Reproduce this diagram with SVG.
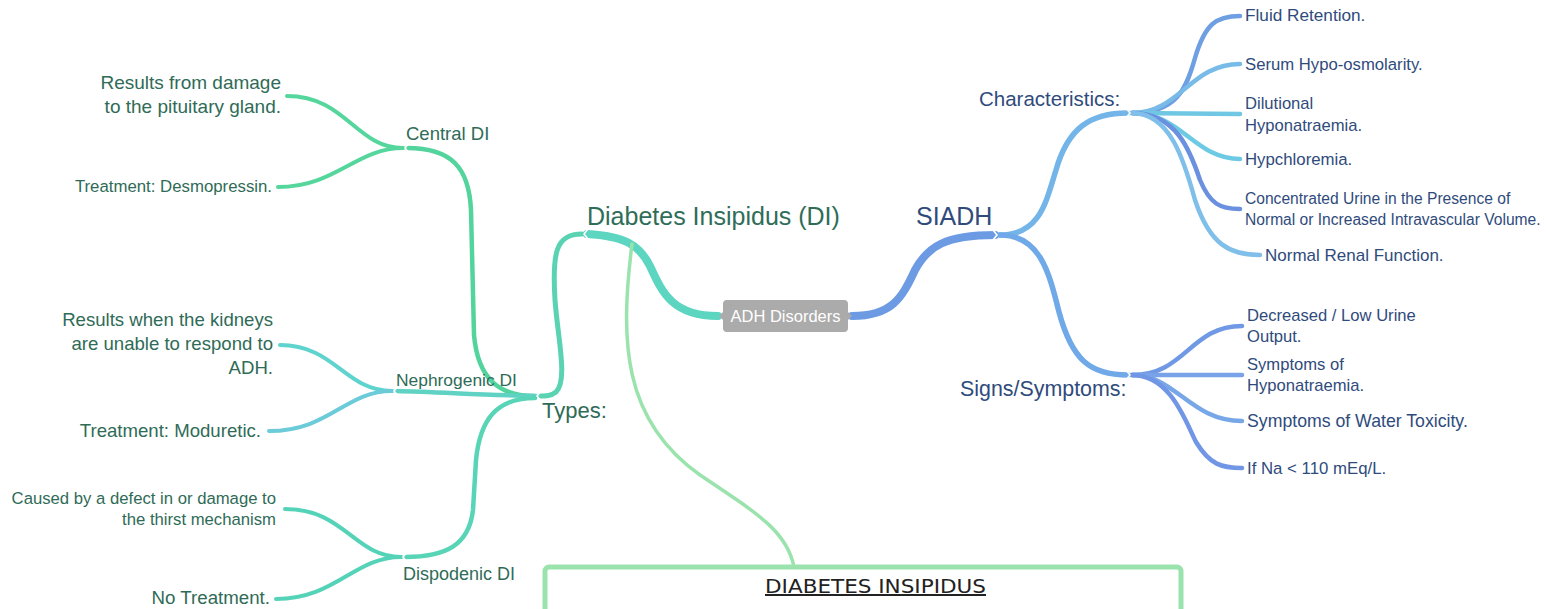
<svg xmlns="http://www.w3.org/2000/svg" width="1546" height="609" viewBox="0 0 1546 609">
<style>
  text { font-family: "Liberation Sans", Arial, sans-serif; }
  .lt { fill: #2f6b57; }
  .rt { fill: #2f4b7c; }
  .e { fill: none; stroke-linecap: round; stroke-linejoin: round; }
  .notch { fill: none; stroke: #ffffff; stroke-width: 1.6; stroke-linecap: round; stroke-linejoin: round; }
</style>
<rect width="1546" height="609" fill="#ffffff"/>

<g id="connectors">
  <!-- main branches -->
  <path class="e" d="M718,316 C672,316 662,292 650,266 C640,246 626,236 587,234" stroke="#5cd5c1" stroke-width="8"/>
  <path class="e" d="M852,316 C892,316 902,298 915,270 C928,246 946,235 995,235" stroke="#6d9be3" stroke-width="8"/>
  <!-- DI to Types -->
  <path class="e" d="M582,234 C556,234 552,252 555,300 C558,340 568,380 556,392 C551,396 546,396 539,396" stroke="#5ad3b3" stroke-width="5"/>
  <!-- Types to children -->
  <path class="e" d="M535,396 C500,396 478,380 474,335 L471,210 C469,168 452,148 407,148" stroke="#53d49c" stroke-width="4.5"/>
  <path class="e" d="M535,396 C480,395 440,392 396,391" stroke="#5fd2c4" stroke-width="4.5"/>
  <path class="e" d="M535,398 C496,398 480,420 476,460 L473,510 C469,545 446,557 405,557" stroke="#58d4b7" stroke-width="4.5"/>
  <!-- Central DI leaves -->
  <path class="e" d="M403,148 C356,148 346,96 287,96" stroke="#55d69c" stroke-width="4"/>
  <path class="e" d="M403,148 C356,148 336,187 278,187" stroke="#55d69c" stroke-width="4"/>
  <!-- Nephrogenic leaves -->
  <path class="e" d="M392,391 C345,391 335,345 280,345" stroke="#5fd3cd" stroke-width="4"/>
  <path class="e" d="M392,391 C345,391 330,431 269,431" stroke="#6ccbd9" stroke-width="4"/>
  <!-- Dispodenic leaves -->
  <path class="e" d="M401,557 C354,557 345,509 285,509" stroke="#55d3b8" stroke-width="4"/>
  <path class="e" d="M401,557 C354,557 336,599 276,599" stroke="#55d3b8" stroke-width="4"/>
  <!-- SIADH to children -->
  <path class="e" d="M1000,235 C1040,235 1046,202 1056,170 C1068,128 1090,113 1128,113" stroke="#73b5e8" stroke-width="5.5"/>
  <path class="e" d="M1000,235 C1040,235 1049,272 1059,312 C1072,360 1090,375 1128,375" stroke="#70a9e8" stroke-width="5.5"/>
  <!-- Characteristics leaves -->
  <path class="e" d="M1132,113 C1176,113 1186,90 1195,58 C1205,24 1216,16 1240,16" stroke="#6e9fe2" stroke-width="4.5"/>
  <path class="e" d="M1132,113 C1180,113 1190,64 1240,64" stroke="#78bbe8" stroke-width="4.5"/>
  <path class="e" d="M1132,113 L1240,114" stroke="#6fc7e3" stroke-width="4.5"/>
  <path class="e" d="M1132,113 C1182,113 1194,159 1240,159" stroke="#6ccae4" stroke-width="4.5"/>
  <path class="e" d="M1132,113 C1176,113 1190,150 1200,180 C1210,204 1220,209 1240,209" stroke="#6b90df" stroke-width="4.5"/>
  <path class="e" d="M1132,113 C1170,113 1184,160 1195,200 C1210,245 1230,255 1260,255" stroke="#80bfe9" stroke-width="4.5"/>
  <!-- Signs leaves -->
  <path class="e" d="M1132,375 C1186,375 1190,326 1242,326" stroke="#7099e5" stroke-width="4.5"/>
  <path class="e" d="M1132,375 L1242,375" stroke="#7aa2e8" stroke-width="4.5"/>
  <path class="e" d="M1132,375 C1176,375 1190,421 1242,421" stroke="#78a7e8" stroke-width="4.5"/>
  <path class="e" d="M1132,375 C1170,375 1185,420 1196,442 C1210,465 1222,468 1242,468" stroke="#7196e6" stroke-width="4.5"/>
  <!-- link from DI to bottom box -->
  <path class="e" d="M632,244 C620,340 622,420 700,475 C760,515 787,532 794,567" stroke="#9be3ad" stroke-width="3.5"/>
  <!-- notches -->
  <polyline class="notch" points="588,229 584,234 588,239"/>
  <polyline class="notch" points="541,391 537,396 541,401"/>
  <polyline class="notch" points="409,143 405,148 409,153"/>
  <polyline class="notch" points="398,386 394,391 398,396"/>
  <polyline class="notch" points="407,552 403,557 407,562"/>
  <polyline class="notch" points="993,230 997,235 993,240"/>
  <polyline class="notch" points="1126,108 1130,113 1126,118"/>
  <polyline class="notch" points="1126,370 1130,375 1126,380"/>
</g>

<g id="adh-disorders">
  <path d="M727,300 H844 Q848,300 848,304 V312 L852,316 L848,320 V328 Q848,332 844,332 H727 Q723,332 723,328 V320 L719,316 L723,312 V304 Q723,300 727,300 Z" fill="#ababab"/>
  <text x="785.5" y="322" font-size="16.5" fill="#ffffff" text-anchor="middle">ADH Disorders</text>
</g>

<g id="diabetes-insipidus">
  <text x="587" y="225" font-size="25" fill="#2f6d59">Diabetes Insipidus (DI)</text>
</g>
<g id="types">
  <text x="542" y="418" font-size="22" class="lt">Types:</text>
</g>
<g id="central-di">
  <text x="406" y="140" font-size="18.5" class="lt">Central DI</text>
</g>
<g id="nephrogenic-di">
  <text x="396" y="386" font-size="17.4" class="lt">Nephrogenic DI</text>
</g>
<g id="dispodenic-di">
  <text x="403" y="580" font-size="18" class="lt">Dispodenic DI</text>
</g>
<g id="central-cause">
  <text x="281" y="89" font-size="19" class="lt" text-anchor="end">Results from damage</text>
  <text x="281" y="113" font-size="19" class="lt" text-anchor="end">to the pituitary gland.</text>
</g>
<g id="central-treatment">
  <text x="272" y="192" font-size="16.8" class="lt" text-anchor="end">Treatment: Desmopressin.</text>
</g>
<g id="nephrogenic-cause">
  <text x="273" y="326" font-size="18.6" class="lt" text-anchor="end">Results when the kidneys</text>
  <text x="273" y="350" font-size="18.6" class="lt" text-anchor="end">are unable to respond to</text>
  <text x="273" y="374" font-size="18.6" class="lt" text-anchor="end">ADH.</text>
</g>
<g id="nephrogenic-treatment">
  <text x="261" y="437" font-size="18.6" class="lt" text-anchor="end">Treatment: Moduretic.</text>
</g>
<g id="dispodenic-cause">
  <text x="276" y="504" font-size="16.7" class="lt" text-anchor="end">Caused by a defect in or damage to</text>
  <text x="276" y="525" font-size="16.7" class="lt" text-anchor="end">the thirst mechanism</text>
</g>
<g id="dispodenic-treatment">
  <text x="270" y="604" font-size="18.7" class="lt" text-anchor="end">No Treatment.</text>
</g>

<g id="siadh">
  <text x="916" y="225" font-size="25" class="rt">SIADH</text>
</g>
<g id="characteristics">
  <text x="979" y="106" font-size="20.5" class="rt">Characteristics:</text>
</g>
<g id="signs-symptoms">
  <text x="960" y="396" font-size="21.4" class="rt">Signs/Symptoms:</text>
</g>
<g id="fluid-retention">
  <text x="1245" y="21" font-size="17.2" class="rt">Fluid Retention.</text>
</g>
<g id="serum">
  <text x="1245" y="70" font-size="16.7" class="rt">Serum Hypo-osmolarity.</text>
</g>
<g id="dilutional">
  <text x="1245" y="109" font-size="16.6" class="rt">Dilutional</text>
  <text x="1245" y="131" font-size="16.6" class="rt">Hyponatraemia.</text>
</g>
<g id="hypchloremia">
  <text x="1245" y="165" font-size="16.8" class="rt">Hypchloremia.</text>
</g>
<g id="concentrated-urine">
  <text x="1245" y="204" font-size="15.6" class="rt">Concentrated Urine in the Presence of</text>
  <text x="1245" y="225" font-size="15.6" class="rt">Normal or Increased Intravascular Volume.</text>
</g>
<g id="normal-renal">
  <text x="1265" y="261" font-size="17" class="rt">Normal Renal Function.</text>
</g>
<g id="decreased-urine">
  <text x="1247" y="321" font-size="16.6" class="rt">Decreased / Low Urine</text>
  <text x="1247" y="342" font-size="16.6" class="rt">Output.</text>
</g>
<g id="symptoms-hyponatraemia">
  <text x="1247" y="370" font-size="16.6" class="rt">Symptoms of</text>
  <text x="1247" y="391" font-size="16.6" class="rt">Hyponatraemia.</text>
</g>
<g id="water-toxicity">
  <text x="1247" y="427" font-size="17.7" class="rt">Symptoms of Water Toxicity.</text>
</g>
<g id="na-level">
  <text x="1247" y="474" font-size="16.8" class="rt">If Na &lt; 110 mEq/L.</text>
</g>

<g id="di-note-box">
  <rect x="545" y="567" width="636" height="70" rx="4" fill="#ffffff" stroke="#9be3ad" stroke-width="5"/>
  <text x="765" y="593" font-size="20" fill="#222222" textLength="221" lengthAdjust="spacingAndGlyphs" text-decoration="underline" style="font-family:'DejaVu Sans Condensed','Liberation Sans Narrow','Liberation Sans',sans-serif">DIABETES INSIPIDUS</text>
</g>
</svg>
